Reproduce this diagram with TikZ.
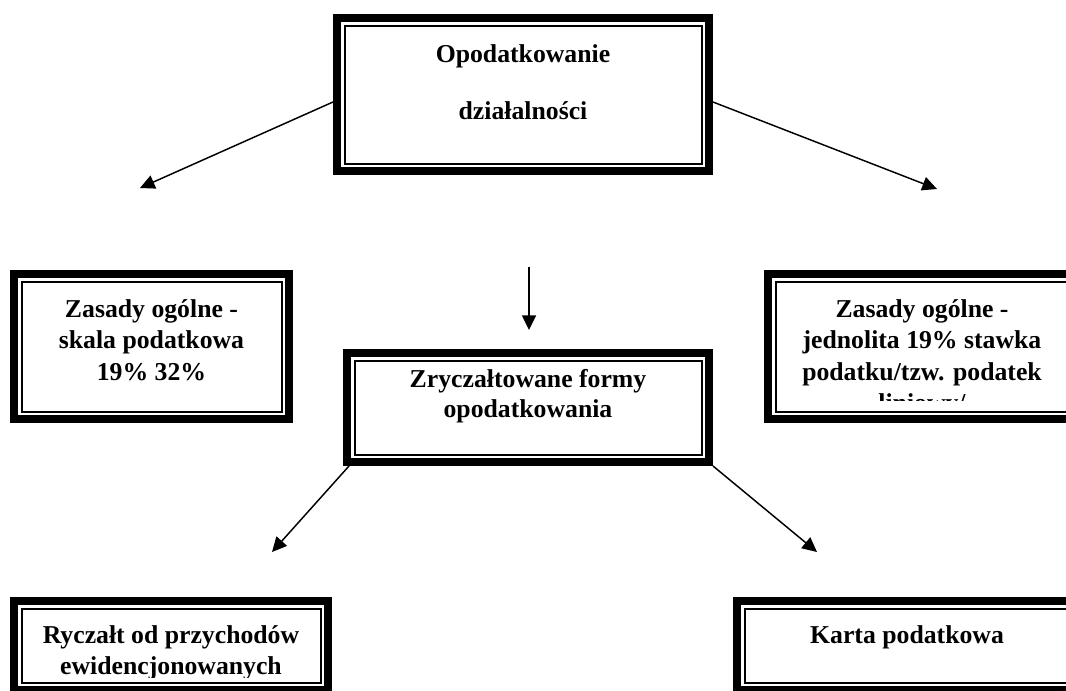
\documentclass[tikz,border=0pt]{standalone}
\usepackage{fontspec}
\setmainfont{Liberation Serif}
\usetikzlibrary{arrows.meta,calc}
\newcommand\dframe[1]{%
  \draw[thickframe] ([shift={(4,4)}]#1.north west) rectangle ([shift={(-4,-4)}]#1.south east);
  \draw[thinframe] ([shift={(11.5,11.5)}]#1.north west) rectangle ([shift={(-11.5,-11.5)}]#1.south east);
}
\tikzset{
  boxshape/.style={rectangle, draw=none, inner sep=0pt, outer sep=0pt},
  thickframe/.style={line width=6pt},
  thinframe/.style={line width=1.5pt},
  boxtext/.style={font=\fontsize{19.3}{23.6}\selectfont\bfseries, align=center, inner sep=0pt, anchor=north},
  arr/.style={line width=1.1pt, -{Triangle[length=11pt, width=10.5pt]}}
}
\begin{document}
\begin{tikzpicture}[x=0.75pt, y=-0.75pt]
\clip (0,0) rectangle (1066,690);
\fill[white] (0,0) rectangle (1066,690);
% boxes
\node[boxshape, minimum width=285pt, minimum height=120.75pt] (top) at (523,94.5) {};
\node[boxshape, minimum width=212.25pt, minimum height=114.75pt] (zl) at (151.5,346.5) {};
\node[boxshape, minimum width=237pt, minimum height=114.75pt] (zp) at (922,346.5) {};
\node[boxshape, minimum width=277.5pt, minimum height=87.75pt] (zf) at (528,407.5) {};
\node[boxshape, minimum width=241.5pt, minimum height=72.75pt] (ry) at (171,645.5) {};
\node[boxshape, minimum width=261pt, minimum height=72.75pt] (kp) at (907,645.5) {};
\dframe{top}
\dframe{zl}
\dframe{zp}
\dframe{zf}
\dframe{ry}
\dframe{kp}
% texts
\node[boxtext, font=\fontsize{19.3}{42.75}\selectfont\bfseries] (topt) at (523,42) {\rule{0pt}{15pt}Opodatkowanie\\działalności};
\node[boxtext] (zlt) at (151.5,297) {\rule{0pt}{15pt}Zasady ogólne -\\skala podatkowa\\19\% 32\%};
\begin{scope}
  \clip (764,270) rectangle (1080,400);
  \node[boxtext] (zpt) at (922,297) {\rule{0pt}{15pt}Zasady ogólne -\\jednolita 19\% stawka\\podatku/tzw. podatek\\liniowy/};
\end{scope}
\node[boxtext, font=\fontsize{19.3}{22.5}\selectfont\bfseries] (zft) at (528,367) {\rule{0pt}{15pt}Zryczałtowane formy\\opodatkowania};
\begin{scope}
  \clip (10,597) rectangle (332,677);
  \node[boxtext, font=\fontsize{19.3}{23.25}\selectfont\bfseries] (ryt) at (171,623) {\rule{0pt}{15pt}Ryczałt od przychodów\\ewidencjonowanych};
\end{scope}
\node[boxtext] (kpt) at (907,623) {\rule{0pt}{15pt}Karta podatkowa};
% arrow ends
\coordinate (t1) at (140,188);
\coordinate (t2) at (937,189);
\coordinate (d1) at (529,267);
\coordinate (d2) at (529,330);
\coordinate (t4) at (272,552);
\coordinate (t5) at (817,552);
\draw[arr] ($(top.west)+(0,7.5)$) -- (t1);
\draw[arr] ($(top.east)+(0,7.5)$) -- (t2);
\draw[arr] (d1) -- (d2);
\draw[arr] ($(zf.south west)+(6,0)$) -- (t4);
\draw[arr] (zf.south east) -- (t5);
\end{tikzpicture}
\end{document}
